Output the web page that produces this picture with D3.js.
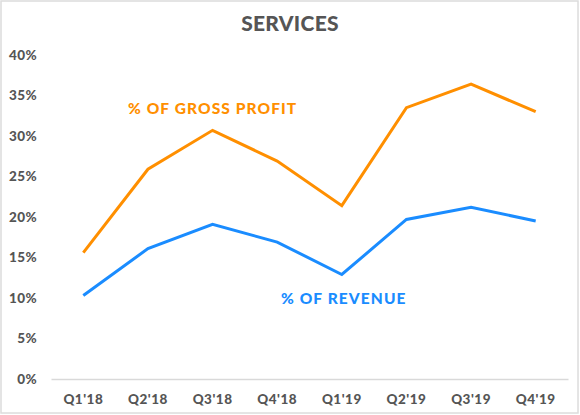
<!DOCTYPE html>
<html>
<head>
<meta charset="utf-8">
<script src="https://cdn.jsdelivr.net/npm/d3@7"></script>
<style>
  body { margin: 0; background: #fff; }
  svg { display: block; font-family: Lato, "Open Sans", sans-serif; }
</style>
</head>
<body>
<svg width="580" height="415"></svg>
<script>
var quarters = ["Q1'18", "Q2'18", "Q3'18", "Q4'18", "Q1'19", "Q2'19", "Q3'19", "Q4'19"];
var grossProfitPct = [15.6, 25.9, 30.7, 26.9, 21.4, 33.5, 36.4, 33.0];
var revenuePct = [10.3, 16.1, 19.1, 16.9, 12.9, 19.7, 21.2, 19.5];
var yTicks = [0, 5, 10, 15, 20, 25, 30, 35, 40];

var svg = d3.select('svg');
var width = +svg.attr('width');
var height = +svg.attr('height');

var orange = '#ff8f00';
var blue = '#1a8cff';
var grey = '#555555';

// frame round the picture
svg.append('rect')
    .attr('x', 1).attr('y', 1)
    .attr('width', width - 3).attr('height', height - 3)
    .attr('fill', 'none')
    .attr('stroke', '#dcdcdc')
    .attr('stroke-width', 1.5);

var x = d3.scaleBand().domain(quarters).range([51, 568]);
var y = d3.scaleLinear().domain([0, 40]).range([379, 55]);

svg.append('text')
    .attr('x', 290).attr('y', 31)
    .attr('text-anchor', 'middle')
    .style('font-size', '21px')
    .style('font-weight', 900)
    .style('letter-spacing', '0.3px')
    .attr('fill', grey)
    .text('SERVICES');

// y labels
svg.append('g').selectAll('text')
    .data(yTicks)
    .enter()
    .append('text')
    .attr('x', 37)
    .attr('y', function(d) { return y(d); })
    .attr('dy', '0.35em')
    .attr('text-anchor', 'end')
    .style('font-size', '13.5px')
    .style('font-weight', 900)
    .style('letter-spacing', '0.4px')
    .attr('fill', grey)
    .text(function(d) { return d + '%'; });

// baseline + x labels
var xAxis = svg.append('g')
    .attr('transform', 'translate(0,' + y(0) + ')')
    .call(d3.axisBottom(x).tickSize(0).tickPadding(15));
xAxis.select('.domain').attr('stroke', '#d9d9d9').attr('stroke-width', 1.5);
xAxis.selectAll('text')
    .style('font-family', 'Lato, sans-serif')
    .style('font-size', '13.5px')
    .style('font-weight', 900)
    .style('letter-spacing', '0.5px')
    .attr('fill', grey);

var line = d3.line()
    .x(function(d, i) { return x(quarters[i]) + x.bandwidth() / 2; })
    .y(function(d) { return y(d); });

svg.append('path')
    .datum(grossProfitPct)
    .attr('d', line)
    .attr('fill', 'none')
    .attr('stroke', orange)
    .attr('stroke-width', 3);

svg.append('path')
    .datum(revenuePct)
    .attr('d', line)
    .attr('fill', 'none')
    .attr('stroke', blue)
    .attr('stroke-width', 3);

svg.append('text')
    .attr('x', 128).attr('y', 114)
    .style('font-size', '15.5px')
    .style('font-weight', 900)
    .style('letter-spacing', '1.1px')
    .attr('fill', orange)
    .text('% OF GROSS PROFIT');

svg.append('text')
    .attr('x', 281).attr('y', 304)
    .style('font-size', '15.5px')
    .style('font-weight', 900)
    .style('letter-spacing', '1.1px')
    .attr('fill', blue)
    .text('% OF REVENUE');
</script>
</body>
</html>
